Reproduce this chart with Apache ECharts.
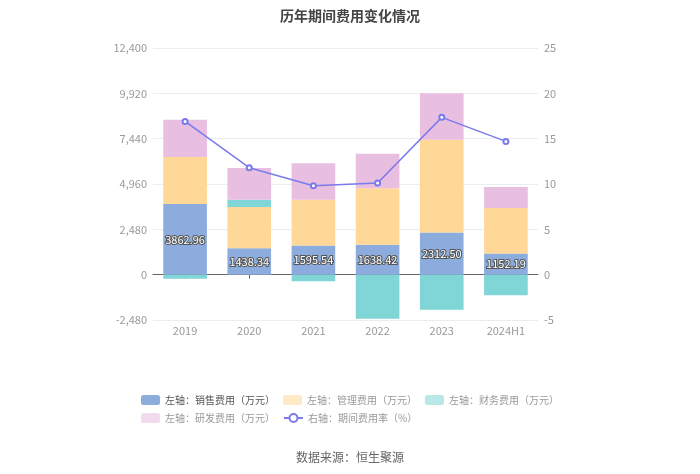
<!DOCTYPE html>
<html>
<head>
<meta charset="utf-8">
<script src="https://cdn.jsdelivr.net/npm/echarts@6/dist/echarts.min.js"></script>
<style>html,body{margin:0;padding:0;background:#fff;}#main{width:700px;height:474px;}</style>
</head>
<body>
<div id="main"></div>
<script>
const categories = ['2019', '2020', '2021', '2022', '2023', '2024H1'];
const salesExp = [3862.96, 1438.34, 1595.54, 1638.42, 2312.50, 1152.19];
const mgmtExp = [2574, 2264, 2507, 3085, 5073, 2495];
const finExp = [-220, 401, -365, -2407, -1915, -1131];
const rdExp = [2042, 1732, 1987, 1896, 2535, 1149];
const rateExp = [16.9, 11.8, 9.8, 10.1, 17.35, 14.7];
const leftTicks = {min: -2480, max: 12400, interval: 2480};
const rightTicks = {min: -5, max: 25, interval: 5};
const names = ['左轴：销售费用（万元）', '左轴：管理费用（万元）', '左轴：财务费用（万元）', '左轴：研发费用（万元）', '右轴：期间费用率（%）'];
const colors = ['#8BACDD', '#FFD797', '#80D5D6', '#E8BEE1', '#7A7AEA'];

const chart = echarts.init(document.getElementById('main'));
const fontFamily = '"Noto Sans CJK SC", "Noto Sans", sans-serif';
chart.setOption({
  animation: false,
  textStyle: {fontFamily: fontFamily},
  title: [
    {text: '历年期间费用变化情况', left: 'center', top: 4,
     textStyle: {fontSize: 14, fontWeight: 'bold', color: '#444', fontFamily: fontFamily}},
    {text: '数据来源：恒生聚源', left: 'center', top: 446,
     textStyle: {fontSize: 12, fontWeight: 'normal', color: '#666', fontFamily: fontFamily}}
  ],
  legend: {
    left: 'center', top: 390, width: 430,
    itemWidth: 19, itemHeight: 10, itemGap: 8,
    textStyle: {fontSize: 10, color: '#999'},
    data: names.map((n, i) => i === 0
      ? {name: n, textStyle: {color: '#555'}}
      : {name: n, itemStyle: {opacity: i === 4 ? 1 : 0.55}})
  },
  grid: {left: 153, right: 162, top: 48, bottom: 154},
  xAxis: [
    {type: 'category', data: categories, position: 'bottom',
     axisLine: {show: false, onZero: false}, axisTick: {show: false},
     axisLabel: {color: '#999', fontSize: 11, margin: 5}},
    {type: 'category', data: categories, position: 'bottom',
     axisLine: {show: true, onZero: true, onZeroAxisIndex: 0, lineStyle: {color: '#666'}},
     axisTick: {show: true, alignWithLabel: true, length: 4, lineStyle: {color: '#666'}},
     axisLabel: {show: false}}
  ],
  yAxis: [
    {type: 'value', min: leftTicks.min, max: leftTicks.max, interval: leftTicks.interval,
     axisLine: {show: false}, axisTick: {show: false},
     axisLabel: {color: '#999', fontSize: 11, margin: 6},
     splitLine: {lineStyle: {color: '#E9ECF2'}}},
    {type: 'value', min: rightTicks.min, max: rightTicks.max, interval: rightTicks.interval,
     axisLine: {show: false}, axisTick: {show: false},
     axisLabel: {color: '#999', fontSize: 11, margin: 6},
     splitLine: {show: false}}
  ],
  series: [
    {name: names[0], type: 'bar', stack: 'exp', data: salesExp, barWidth: '68%',
     itemStyle: {color: colors[0]},
     label: {show: true, position: 'inside', color: '#fff', fontSize: 11,
             textBorderColor: '#555', textBorderWidth: 2,
             formatter: p => Number(p.value).toFixed(2)}},
    {name: names[1], type: 'bar', stack: 'exp', data: mgmtExp, itemStyle: {color: colors[1]}},
    {name: names[2], type: 'bar', stack: 'exp', data: finExp, itemStyle: {color: colors[2]}},
    {name: names[3], type: 'bar', stack: 'exp', data: rdExp, itemStyle: {color: colors[3]}},
    {name: names[4], type: 'line', yAxisIndex: 1, data: rateExp,
     symbol: 'emptyCircle', symbolSize: 5, z: 5,
     lineStyle: {color: colors[4], width: 1.5}, itemStyle: {color: colors[4]}}
  ]
});
</script>
</body>
</html>
